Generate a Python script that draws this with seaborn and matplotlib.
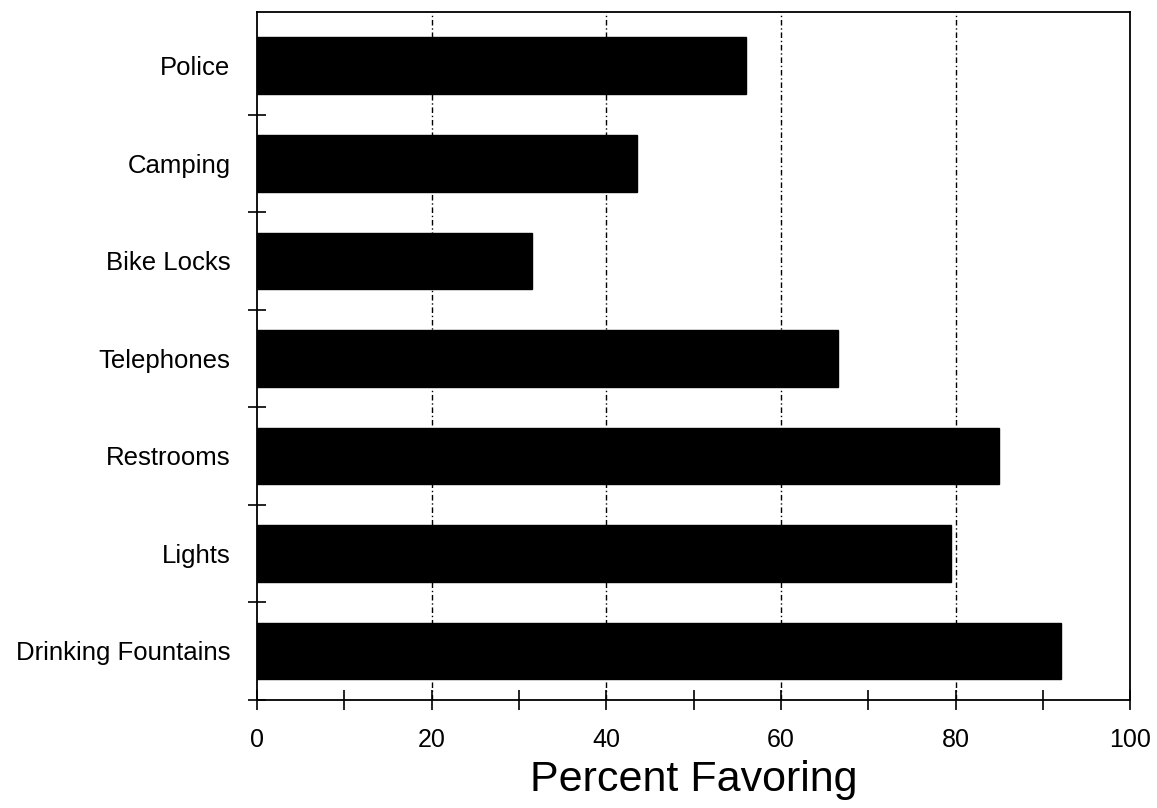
import matplotlib
matplotlib.use("Agg")
import matplotlib.pyplot as plt
import seaborn as sns
import pandas as pd
import numpy as np

# Survey results: share of respondents favoring each facility
facilities = ["Police", "Camping", "Bike Locks", "Telephones",
              "Restrooms", "Lights", "Drinking Fountains"]
percent_favoring = [56, 43.5, 31.5, 66.5, 85, 79.5, 92]
x_ticks = [0, 20, 40, 60, 80, 100]

df = pd.DataFrame({"facility": facilities, "percent": percent_favoring})

sns.set_theme(style="white")
plt.rcParams["font.family"] = ["Liberation Sans", "DejaVu Sans"]
plt.rcParams["text.color"] = "black"
plt.rcParams["xtick.color"] = "black"
plt.rcParams["ytick.color"] = "black"
plt.rcParams["axes.labelcolor"] = "black"

fig = plt.figure(figsize=(11.57, 8.08), dpi=100)
ax = fig.add_axes([0.222, 0.134, 0.755, 0.851])

# reference lines behind the bars
for v in x_ticks[1:-1]:
    ax.axvline(v, color="black", lw=1.0, ls=(0, (4, 2, 1, 2)), zorder=0)

sns.barplot(data=df, x="percent", y="facility", order=facilities,
            color="black", saturation=1, width=0.58, orient="h", ax=ax,
            edgecolor="black", zorder=2)

ax.set_xlim(0, 100)
ax.set_ylim(len(facilities) - 0.5, -0.55)

ax.set_xticks(x_ticks)
ax.set_xticklabels([str(t) for t in x_ticks], fontsize=18)
ax.set_xticks(np.arange(0, 101, 10), minor=True)
ax.tick_params(axis="x", which="both", direction="inout", length=14,
               width=1.2, color="black", pad=13, bottom=True)

ax.set_yticks(range(len(facilities)))
ax.set_yticklabels(facilities, fontsize=18.5)
ax.set_yticks(np.arange(0.5, len(facilities), 1.0), minor=True)
ax.tick_params(axis="y", which="major", length=0, pad=19)
ax.tick_params(axis="y", which="minor", direction="inout", length=13,
               width=1.2, color="black", left=True)

ax.set_xlabel("Percent Favoring", fontsize=31, labelpad=6)
ax.set_ylabel("")

for s in ax.spines.values():
    s.set_visible(True)
    s.set_color("black")
    s.set_linewidth(1.3)

fig.savefig("out.png", dpi=100, facecolor="white")
